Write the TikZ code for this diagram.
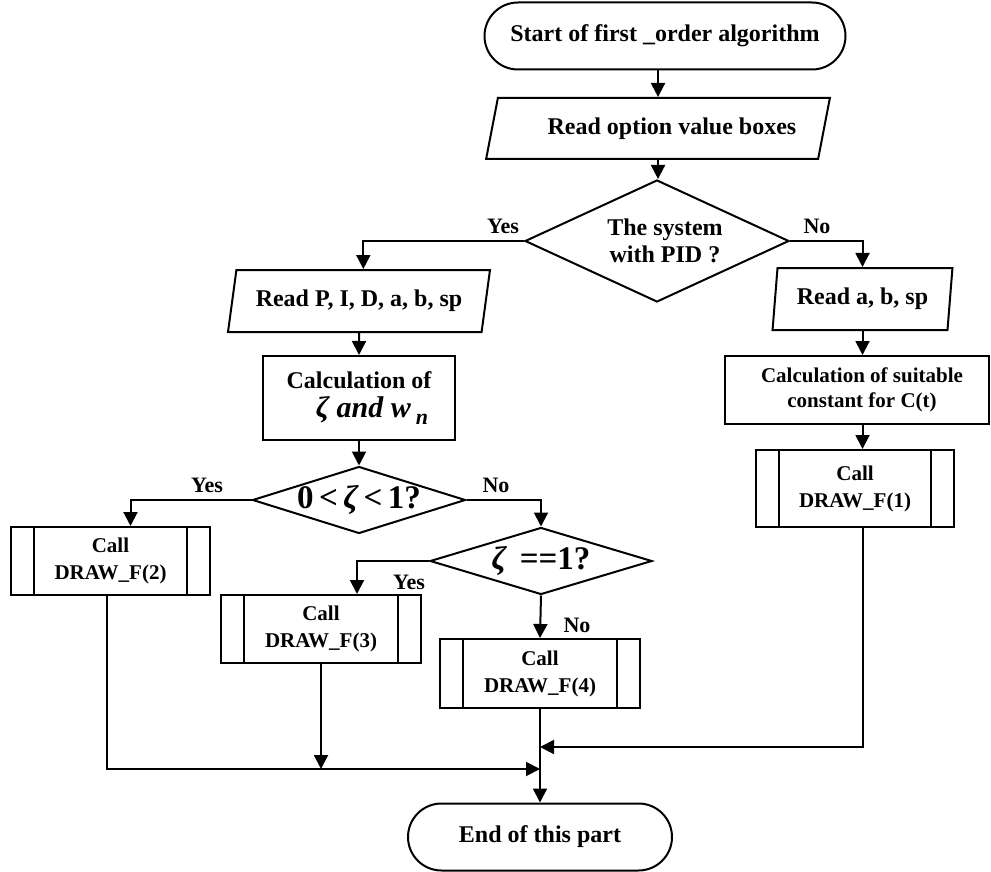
\documentclass[tikz,border=0pt]{standalone}
\usepackage{fontspec}
\setmainfont{Liberation Serif}
\usetikzlibrary{shapes.geometric,shapes.misc,arrows.meta}
\begin{document}
\begin{tikzpicture}[x=0.5pt,y=-0.5pt,
  every node/.style={font=\bfseries\fontsize{12}{13.5}\selectfont, align=center, inner sep=0pt, line width=1pt},
  term/.style={draw, rounded rectangle, minimum height=33.5pt},
  io/.style={draw, trapezium, trapezium stretches=true},
  proc/.style={draw, rectangle},
  pre/.style={draw, rectangle, font=\bfseries\fontsize{10.5}{13.5}\selectfont},
  dec/.style={draw, diamond},
  lbl/.style={font=\bfseries\fontsize{11}{12}\selectfont},
  arr/.style={-{Triangle[length=7pt,width=7pt]}, line width=1pt},
  line width=1pt]
\useasboundingbox (0,0) rectangle (991,872);

% nodes
\node[term, minimum width=180.5pt] (start) at (665,36) {Start of first \_order algorithm};
\node[io, trapezium left angle=65, trapezium right angle=115, minimum width=172pt, minimum height=30.5pt] (read1) at (658,128.5) {\hspace*{14pt}Read option value boxes};
\node[dec, minimum width=132pt, minimum height=61pt,
  label={[xshift=4pt]center:The system\\with PID ?}] (dia1) at (657,241) {};
\node[io, trapezium left angle=72, trapezium right angle=108, minimum width=131pt, minimum height=31pt] (readP) at (359,301) {Read P, I, D, a, b, sp};
\node[io, trapezium left angle=80, trapezium right angle=100, minimum width=90.5pt, minimum height=31pt] (readR) at (862.5,299) {Read a, b, sp};
\node[proc, minimum width=96pt, minimum height=42pt] (calc1) at (359,398)
  {Calculation of\\[1pt]{\hspace*{13pt}\fontsize{15}{16}\selectfont\bfseries\itshape ζ and w\,\raisebox{-0.45ex}{\fontsize{11}{11}\selectfont n}}};
\node[proc, minimum width=132pt, minimum height=34pt, font=\bfseries\fontsize{10.5}{12.5}\selectfont] (calcR) at (857,390)
  {\hspace*{5pt}Calculation of suitable\\\hspace*{5pt}constant for C(t)};
\node[pre, minimum width=99pt, minimum height=38.5pt] (call1) at (855,488.5) {Call\\DRAW\_F(1)};
\node[dec, minimum width=106.5pt, minimum height=33.5pt,
  label={[font=\bfseries\fontsize{16.5}{17}\selectfont]center:0\,<\,{\itshape ζ}\,<\,1?}] (dia2) at (359,500) {};
\node[pre, minimum width=99.5pt, minimum height=34pt] (call2) at (110.5,561) {Call\\DRAW\_F(2)};
\node[dec, minimum width=111pt, minimum height=33.5pt,
  label={[font=\bfseries\fontsize{16.5}{17}\selectfont]center:{\itshape ζ}\, ==1?}] (dia3) at (541,561) {};
\node[pre, minimum width=100pt, minimum height=34pt] (call3) at (321,629) {Call\\DRAW\_F(3)};
\node[pre, minimum width=100pt, minimum height=34.5pt] (call4) at (540,673.5) {Call\\DRAW\_F(4)};
\node[term, minimum width=132pt] (end) at (540,837) {End of this part};

% inner lines of predefined process boxes
\foreach \n in {call1,call2,call3,call4}{
  \draw ([xshift=12pt]\n.north west) -- ([xshift=12pt]\n.south west);
  \draw ([xshift=-12pt]\n.north east) -- ([xshift=-12pt]\n.south east);
}

% labels
\node[lbl] (yes1) at (503,226) {Yes};
\node[lbl] (no1) at (817,226) {No};
\node[lbl] (yes2) at (207,485) {Yes};
\node[lbl] (no2) at (496,485) {No};
\node[lbl] (yes3) at (409,582) {Yes};
\node[lbl] (no3) at (577,625) {No};

% junctions
\coordinate (j1) at (540,747);
\coordinate (j2) at (540,769);

% connectors
\draw[arr] (start.south -| read1.north) -- (read1.north);
\draw[arr] (read1.south) -- (read1.south |- dia1.north);
\draw[arr] (dia1.west) -| (readP.top side);
\draw[arr] (dia1.east) -| (readR.north);
\draw[arr] (readP.south) -- (calc1.north);
\draw[arr] (calc1.south) -- (dia2.north);
\draw[arr] (dia2.west) -| ([xshift=10pt]call2.north);
\draw[arr] (dia2.east) -| (dia3.north);
\draw[arr] (dia3.west) -| ([xshift=18pt]call3.north);
\draw[arr] (dia3.south) -- (call4.north);
\draw[arr] (call4.south) -- (end.north);
\draw[arr] (readR.south) -- (readR.south |- calcR.north);
\draw[arr] (readR.south |- calcR.south) -- (readR.south |- call1.north);
\draw[arr] (readR.south |- call1.south) |- (j1);
\draw[arr] ([xshift=-2pt]call2.south) |- (j2);
\draw[arr] (call3.south) -- (call3.south |- j2);
\end{tikzpicture}
\end{document}
